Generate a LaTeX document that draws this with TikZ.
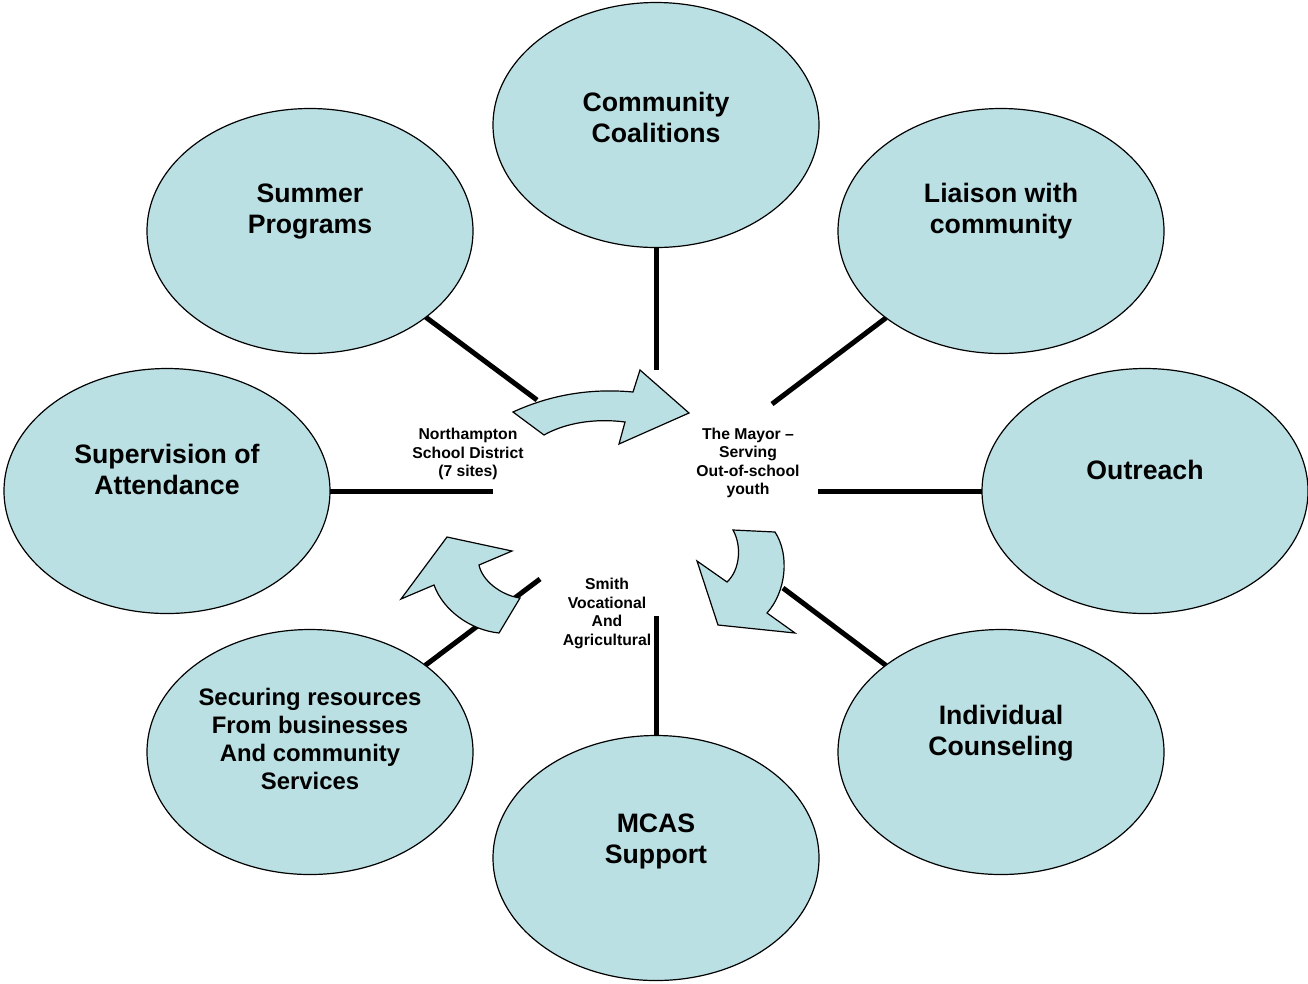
\documentclass[tikz,border=0pt]{standalone}
\usepackage{fontspec}
\setmainfont{Liberation Sans}
\usetikzlibrary{shapes.geometric}
\pgfdeclarelayer{background}
\pgfsetlayers{background,main}
\definecolor{bubble}{RGB}{187,224,227}
\tikzset{
  bubble/.style={ellipse, draw=black, line width=0.9pt, fill=bubble,
    minimum width=244.5pt, minimum height=183.75pt, inner sep=0pt, outer sep=0pt},
  bigtext/.style={align=center, font=\fontsize{20}{23.25}\selectfont\bfseries},
  midtext/.style={align=center, font=\fontsize{17.9}{21}\selectfont\bfseries},
  smalltext/.style={align=center, font=\fontsize{11.8}{13.9}\selectfont\bfseries},
  spoke/.style={line width=3.75pt, line cap=butt},
  blockarrow/.style={draw=black, line width=0.9pt, fill=bubble, line join=miter}
}
\begin{document}
\begin{tikzpicture}[x=0.75pt,y=-0.75pt]
\useasboundingbox (0,0) rectangle (1308,983);
% free ends of the spokes
\coordinate (cc-end) at (656,370);
\coordinate (sp-end) at (537,400);
\coordinate (li-end) at (772,404);
\coordinate (sa-end) at (493,491);
\coordinate (ou-end) at (818,491);
\coordinate (ic-end) at (783,588);
\coordinate (mc-end) at (656,616);
\coordinate (se-end) at (540,579);
% bubbles
\node[bubble] (cc) at (656,125) {};
\node[bubble] (sp) at (310,231) {};
\node[bubble] (li) at (1001,231) {};
\node[bubble] (sa) at (167,491) {};
\node[bubble] (ou) at (1145,491) {};
\node[bubble] (se) at (310,752) {};
\node[bubble] (ic) at (1001,752) {};
\node[bubble] (mc) at (656,858) {};
% spokes (behind bubbles and arrows)
\begin{pgfonlayer}{background}
\draw[spoke] (cc) -- (cc-end);
\draw[spoke] (sp) -- (sp-end);
\draw[spoke] (li) -- (li-end);
\draw[spoke] (sa) -- (sa-end);
\draw[spoke] (ou) -- (ou-end);
\draw[spoke] (ic) -- (ic-end);
\draw[spoke] (mc) -- (mc-end);
\draw[spoke] (se) -- (se-end);
\end{pgfonlayer}
% curved block arrows
\draw[blockarrow] (513,412) .. controls (550,395) and (590,388) .. (633,392)
  -- (640,370) -- (689,413) -- (619,444) -- (625,422)
  .. controls (595,418) and (565,423) .. (544,435) -- cycle;
\draw[blockarrow] (733,530) -- (775,532) .. controls (790,555) and (786,592) .. (767,613)
  -- (795,633) -- (718,625) -- (697,561) -- (727,582)
  .. controls (740,570) and (742,546) .. (733,530) -- cycle;
\draw[blockarrow] (520,598) -- (499,633) .. controls (470,630) and (443,610) .. (434,585)
  -- (401,599) -- (447,537) -- (512,551) -- (479,565)
  .. controls (482,580) and (500,595) .. (520,598) -- cycle;
% bubble texts
\node[bigtext] (cc-t) at (656,117) {Community\\Coalitions};
\node[bigtext] (sp-t) at (310,212) {Summer\\Programs};
\node[bigtext] (li-t) at (1001,211) {Liaison with\\community};
\node[bigtext] (sa-t) at (167,469) {Supervision of\\Attendance};
\node[bigtext] (ou-t) at (1145,470) {Outreach};
\node[midtext] (se-t) at (310,739) {Securing resources\\From businesses\\And community\\Services};
\node[bigtext] (ic-t) at (1001,733) {Individual\\Counseling};
\node[bigtext] (mc-t) at (656,841) {MCAS\\Support};
% center texts
\node[smalltext] (north) at (468,454) {Northampton\\School District\\(7 sites)};
\node[smalltext] (mayor) at (748,463) {The Mayor --\\Serving\\Out-of-school\\youth};
\node[smalltext] (smith) at (607,613.5) {Smith\\Vocational\\And\\Agricultural};
\end{tikzpicture}
\end{document}
